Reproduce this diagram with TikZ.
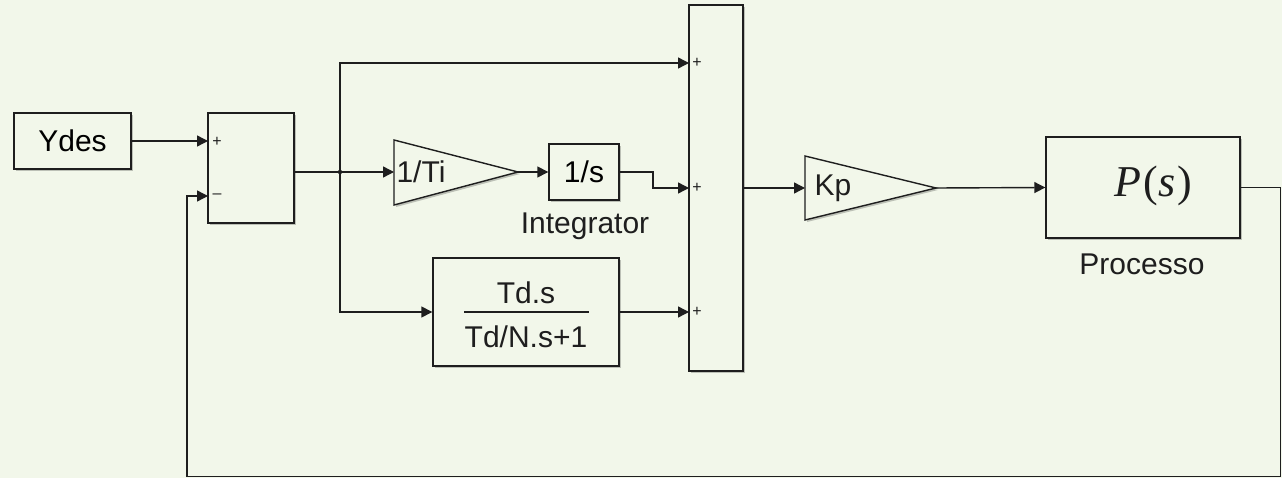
\documentclass[tikz,border=0pt]{standalone}
\usepackage{fontspec}
\setmainfont{Liberation Sans}
\newfontfamily\psfont{Liberation Serif}
\usetikzlibrary{arrows.meta,shadows}
\definecolor{bg}{HTML}{F2F7EA}
\definecolor{ln}{HTML}{1E1E1E}
\begin{document}
\begin{tikzpicture}[x=1pt,y=-1pt,
  shad/.style={drop shadow={shadow xshift=2pt,shadow yshift=-2pt,fill=black,opacity=0.22}},
  blk/.style={draw=ln, line width=1.4pt, fill=bg, shad, inner sep=0pt, font=\fontsize{30}{36}\selectfont},
  tri/.style={draw=ln, line width=1.4pt, fill=bg, shad},
  lbl/.style={font=\fontsize{30}{36}\selectfont, text=ln, inner sep=0pt},
  sgn/.style={font=\fontsize{16}{18}\selectfont, text=ln, inner sep=0pt},
  wire/.style={draw=ln, line width=1.4pt},
  arr/.style={wire, -{Triangle[length=11pt,width=11pt]}}]
\fill[bg] (0,0) rectangle (1282,478);
\useasboundingbox (0,0) rectangle (1282,478);

% blocks
\node[blk, minimum width=117pt, minimum height=56pt] (ydes) at (72.5,141) {Ydes};
\node[blk, minimum width=86pt, minimum height=110pt] (sum1) at (251,168) {};
\node[blk, minimum width=70pt, minimum height=56pt] (integ) at (584,172) {1/s};
\node[blk, minimum width=186pt, minimum height=108pt] (td) at (526,312) {};
\node[blk, minimum width=54pt, minimum height=366pt] (sum2) at (716,188) {};
\node[blk, minimum width=194pt, minimum height=101pt] (P) at (1143,187.5) {};

% gains (triangles)
\draw[tri] (394,140) -- (518,172) -- (394,205) -- cycle;
\draw[tri] (805,156) -- (936,188) -- (805,220) -- cycle;
\coordinate (ti-in) at (394,172);
\coordinate (ti-out) at (518,172);
\coordinate (kp-in) at (805,188);
\coordinate (kp-out) at (936,188);
\node[lbl] (ti) at (421,172) {1/Ti};
\node[lbl] (kp) at (833,188) {Kp};

% texts
\node[lbl] (tdnum) at (526,293) {Td.s};
\draw[ln, line width=1.2pt] (464,312) -- (589,312);
\node[lbl] (tdden) at (526,337) {Td/N.s+1};
\node[inner sep=0pt, text=ln, font=\fontsize{44}{50}\psfont] (ps) at (1153,186) {\textit{P}\kern2pt(\kern1pt\textit{s}\kern1pt)};
\node[lbl] (intlab) at (585,226) {Integrator};
\node[lbl] (proclab) at (1142,264) {Processo};

% signs
\node[sgn] (p1) at (217,142) {+};
\node[sgn] (m1) at (217,196) {\textendash};
\node[sgn] (p2) at (697,63) {+};
\node[sgn] (p3) at (697,188) {+};
\node[sgn] (p4) at (697,312) {+};

% coordinates
\coordinate (jn) at (340,172);
\coordinate (in1) at (689,63);
\coordinate (in2) at (689,188);
\coordinate (in3) at (689,312);
\coordinate (bend) at (653,172);
\coordinate (fbR) at (1280.5,476.5);
\coordinate (fbL) at (187,476.5);
\coordinate (minus) at (208,196);
\coordinate (plus) at (208,141);

% wires
\draw[arr] (ydes.east) -- (plus);
\draw[wire] (sum1.east |- jn) -- (jn);
\fill[ln] (jn) circle (2.2pt);
\draw[arr] (jn) -- (ti-in);
\draw[arr] (jn) |- (in1);
\draw[arr] (jn) |- (td.west);
\draw[arr] (ti-out) -- (integ.west);
\draw[arr] (integ.east) -- (bend) |- (in2);
\draw[arr] (td.east) -- (in3);
\draw[arr] (sum2.east) -- (kp-in);
\draw[arr] (kp-out) -- (P.west);
\draw[arr] (P.east) -| (fbR) -- (fbL) |- (minus);
\end{tikzpicture}
\end{document}
